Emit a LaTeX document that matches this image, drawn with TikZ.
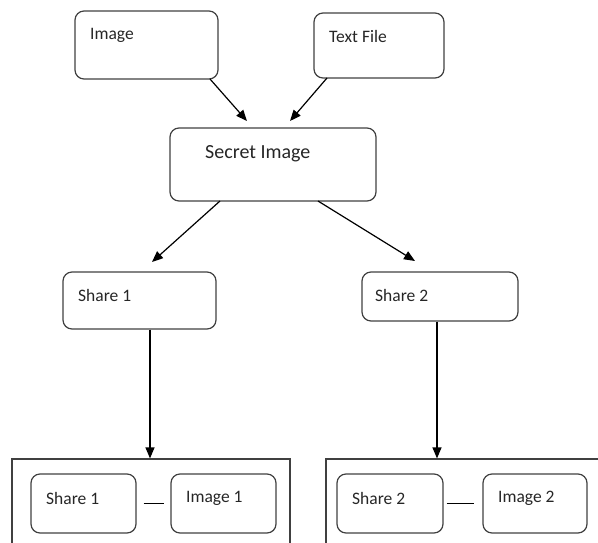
\documentclass[tikz,border=0pt]{standalone}
\usepackage{fontspec}
\setmainfont{Carlito}
\usetikzlibrary{arrows.meta,calc}
\definecolor{linec}{HTML}{404040}
\definecolor{txtc}{HTML}{262626}
\begin{document}
\begin{tikzpicture}[x=1pt,y=-1pt,
  box/.style={draw=linec, line width=1.2pt, rounded corners=9pt, inner sep=0pt},
  lbl/.style={anchor=west, inner sep=0pt, font=\fontsize{17.5}{20}\selectfont, text=txtc},
  biglbl/.style={anchor=west, inner sep=0pt, font=\fontsize{20}{23}\selectfont, text=txtc},
  arr/.style={draw=black, line width=1.2pt, -{Triangle[length=11pt,width=9pt]}},
  plain/.style={draw=black, line width=1.2pt},
  framebox/.style={draw=linec, line width=1.2pt, inner sep=0pt}]
\useasboundingbox (0,0) rectangle (598,542);
\clip (0,0) rectangle (598,542);
% top boxes
\node[box, minimum width=143pt, minimum height=68pt] (img) at (146.5,45) {};
\node[lbl] (imgt) at (90,35) {Image};
\node[box, minimum width=130pt, minimum height=65pt] (txt) at (379,45.5) {};
\node[lbl] (txtt) at (329,36) {Text File};
% secret image
\node[box, minimum width=206pt, minimum height=73pt] (sec) at (273,164.5) {};
\node[biglbl] (sect) at (205,154) {Secret Image};
% shares
\node[box, minimum width=153pt, minimum height=57pt] (sh1) at (139.5,300.5) {};
\node[lbl] (sh1t) at (78,295) {Share 1};
\node[box, minimum width=156pt, minimum height=49pt] (sh2) at (440,296.5) {};
\node[lbl] (sh2t) at (375,295) {Share 2};
% frames
\node[framebox, minimum width=278pt, minimum height=120pt] (f1) at (151,519) {};
\node[framebox, minimum width=290pt, minimum height=120pt] (f2) at (471,519) {};
% bottom boxes
\node[box, minimum width=105pt, minimum height=59pt] (s1b) at (83.5,503.5) {};
\node[lbl] (s1bt) at (46,498) {Share 1};
\node[box, minimum width=105pt, minimum height=59pt] (i1b) at (223.5,503.5) {};
\node[lbl] (i1bt) at (186,498) {Image 1};
\node[box, minimum width=106pt, minimum height=59pt] (s2b) at (390,503.5) {};
\node[lbl] (s2bt) at (352,498) {Share 2};
\node[box, minimum width=104pt, minimum height=59pt] (i2b) at (535,503.5) {};
\node[lbl] (i2bt) at (498,498) {Image 2};
% arrow end points
\coordinate (a1s) at (210,79);
\coordinate (a1e) at (247,121);
\coordinate (a2s) at (327,78);
\coordinate (a2e) at (290,121);
\coordinate (a3s) at (220,201);
\coordinate (a3e) at (152,262);
\coordinate (a4s) at (318,201);
\coordinate (a4e) at (415,261);
\coordinate (v1) at ([xshift=10.5pt]sh1.south);
\coordinate (v2) at ([xshift=-3pt]sh2.south);
% connectors
\draw[arr] (a1s) -- (a1e);
\draw[arr] (a2s) -- (a2e);
\draw[arr] (a3s) -- (a3e);
\draw[arr] (a4s) -- (a4e);
\draw[arr] (v1) -- (v1 |- f1.north);
\draw[arr] (v2) -- (v2 |- f2.north);
\draw[plain] ([xshift=7pt]s1b.east) -- ([xshift=-6pt]i1b.west);
\draw[plain] ([xshift=3pt]s2b.east) -- ([xshift=-8pt]i2b.west);
\end{tikzpicture}
\end{document}
